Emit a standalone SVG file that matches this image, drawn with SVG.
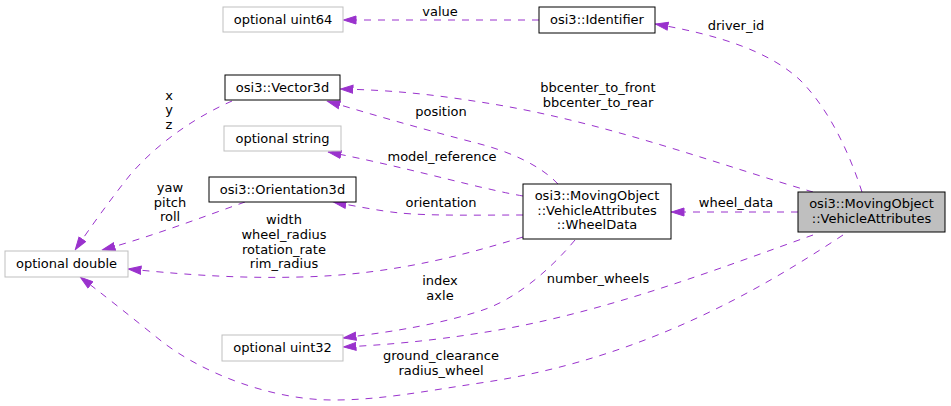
<svg xmlns="http://www.w3.org/2000/svg" width="951" height="406" viewBox="0 0 951 406">
<style>
text{font-family:"DejaVu Sans","Liberation Sans",sans-serif;font-size:13px;fill:#000;text-anchor:middle}
.n rect{fill:#fff;stroke:#000;stroke-width:1}
.g rect{fill:#fff;stroke:#bfbfbf;stroke-width:1}
.m rect{fill:#bfbfbf;stroke:#000;stroke-width:1}
.e path{fill:none;stroke:#9a32cd;stroke-width:1;stroke-dasharray:7,7;marker-end:url(#a)}
</style>
<defs>
<marker id="a" viewBox="0 0 14 10" refX="13.5" refY="5" markerWidth="14" markerHeight="10" markerUnits="userSpaceOnUse" orient="auto">
<path d="M0.5,1 L13,5 L0.5,9 z" fill="#9a32cd" stroke="#9a32cd" stroke-width="1"/>
</marker>
</defs>
<rect width="951" height="406" fill="#fff"/>
<g id="edges" class="e">
<path d="M539,20 L343,20"/>
<path d="M862,192 C850,155 830,110 800,80 C770,52 720,35 655,24"/>
<path d="M813,192 C720,165 600,120 480,102 C430,94 390,90 340,89"/>
<path d="M558,184 C540,165 510,152 480,144 C430,131 380,117 327,101"/>
<path d="M523,196 C500,192 490,189 480,187 C430,175 385,163 328,152"/>
<path d="M523,215 C480,215 430,216 400,213 C380,211 355,206 333,202"/>
<path d="M523,237 C480,250 400,275 300,277 C230,279 170,273 128,269"/>
<path d="M245,202 C200,218 150,237 102,250"/>
<path d="M232,101 C200,115 160,140 130,175 C110,200 90,228 75,250"/>
<path d="M575,240 C550,270 515,300 480,311 C430,327 380,333 343,338"/>
<path d="M813,235 C720,268 600,315 480,333 C430,341 385,345 343,347"/>
<path d="M843,235 C760,290 640,360 480,383 C420,392 380,400 333,400 C270,400 200,372 160,340 C125,312 100,292 80,277"/>
<path d="M798,212 L671,212"/>
</g>
<g id="edge-labels">
<text x="440" y="16">value</text>
<text x="736" y="30">driver_id</text>
<text x="598" y="92">bbcenter_to_front</text>
<text x="598" y="107">bbcenter_to_rear</text>
<text x="441" y="116">position</text>
<text x="442" y="161">model_reference</text>
<text x="441" y="207">orientation</text>
<text x="284" y="224">width</text>
<text x="284" y="239">wheel_radius</text>
<text x="284" y="254">rotation_rate</text>
<text x="284" y="268">rim_radius</text>
<text x="170" y="192">yaw</text>
<text x="170" y="207">pitch</text>
<text x="170" y="221">roll</text>
<text x="169" y="100">x</text>
<text x="169" y="114">y</text>
<text x="169" y="129">z</text>
<text x="440" y="285">index</text>
<text x="440" y="300">axle</text>
<text x="598" y="283">number_wheels</text>
<text x="441" y="360">ground_clearance</text>
<text x="441" y="375">radius_wheel</text>
<text x="736" y="207">wheel_data</text>
</g>
<g id="node-uint64" class="g"><rect x="223" y="7" width="120" height="25"/><text x="283" y="24">optional uint64</text></g>
<g id="node-identifier" class="n"><rect x="539" y="7" width="116" height="26"/><text x="597" y="24">osi3::Identifier</text></g>
<g id="node-vector3d" class="n"><rect x="225" y="75" width="115" height="25"/><text x="282.5" y="92">osi3::Vector3d</text></g>
<g id="node-string" class="g"><rect x="224" y="126" width="117" height="25"/><text x="282.5" y="143">optional string</text></g>
<g id="node-orientation3d" class="n"><rect x="209" y="177" width="147" height="25"/><text x="282.5" y="194">osi3::Orientation3d</text></g>
<g id="node-double" class="g"><rect x="5" y="251" width="123" height="26"/><text x="66.5" y="268">optional double</text></g>
<g id="node-uint32" class="g"><rect x="222" y="335" width="121" height="26"/><text x="282.5" y="352">optional uint32</text></g>
<g id="node-wheeldata" class="n"><rect x="523" y="184" width="148" height="55"/><text x="597" y="200">osi3::MovingObject</text><text x="597" y="215">::VehicleAttributes</text><text x="597" y="229">::WheelData</text></g>
<g id="node-vehicleattributes" class="m"><rect x="798" y="192" width="147" height="40"/><text x="871.5" y="208">osi3::MovingObject</text><text x="871.5" y="223">::VehicleAttributes</text></g>
</svg>
